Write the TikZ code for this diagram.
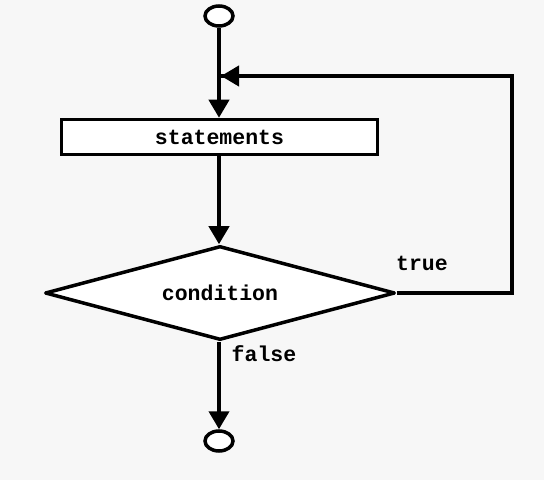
\documentclass[tikz,border=0pt]{standalone}
\usepackage{fontspec}
\newfontfamily\courfont{Liberation Mono}
\usetikzlibrary{shapes.geometric,arrows.meta}
\begin{document}
\begin{tikzpicture}[x=1pt,y=1pt,
  every node/.style={font=\courfont\bfseries\fontsize{21.5}{24}\selectfont},
  terminal/.style={ellipse,draw,line width=3.5pt,minimum width=28pt,minimum height=20pt,inner sep=0pt,fill=white},
  stmtbox/.style={rectangle,draw,line width=3.5pt,minimum width=316pt,minimum height=35pt,inner sep=0pt,fill=white},
  decision/.style={diamond,draw,line width=3.5pt,line join=round,aspect=3.72,minimum width=350pt,minimum height=94pt,inner sep=0pt,fill=white},
  flow/.style={line width=4pt,-{Triangle[length=18pt,width=20pt]}},
  plainline/.style={line width=4pt}]
\fill[fill={rgb,255:red,247;green,247;blue,247}] (0,0) rectangle (544,480);
\useasboundingbox (0,0) rectangle (544,480);
\node[terminal] (start) at (219,464) {};
\node[stmtbox] (stmt) at (219.5,343) {statements};
\node[decision] (cond) at (220,187) {condition};
\node[terminal] (stop) at (219,39) {};
\coordinate (corner1) at (512,187);
\coordinate (corner2) at (512,404);
\coordinate (join) at (219,404);
\draw[flow] (start) -- (stmt.north -| start);
\draw[flow] (stmt.south -| start) -- (cond.north -| start);
\draw[flow] (cond.south -| stop) -- (stop);
\draw[plainline] (cond.east) -- (corner1) -- (corner2) -- (join);
\draw[flow,shorten >=2pt] (corner2) -- (join);
\node (truelbl) at (422,217) {true};
\node (falselbl) at (264,126) {false};
\end{tikzpicture}
\end{document}
